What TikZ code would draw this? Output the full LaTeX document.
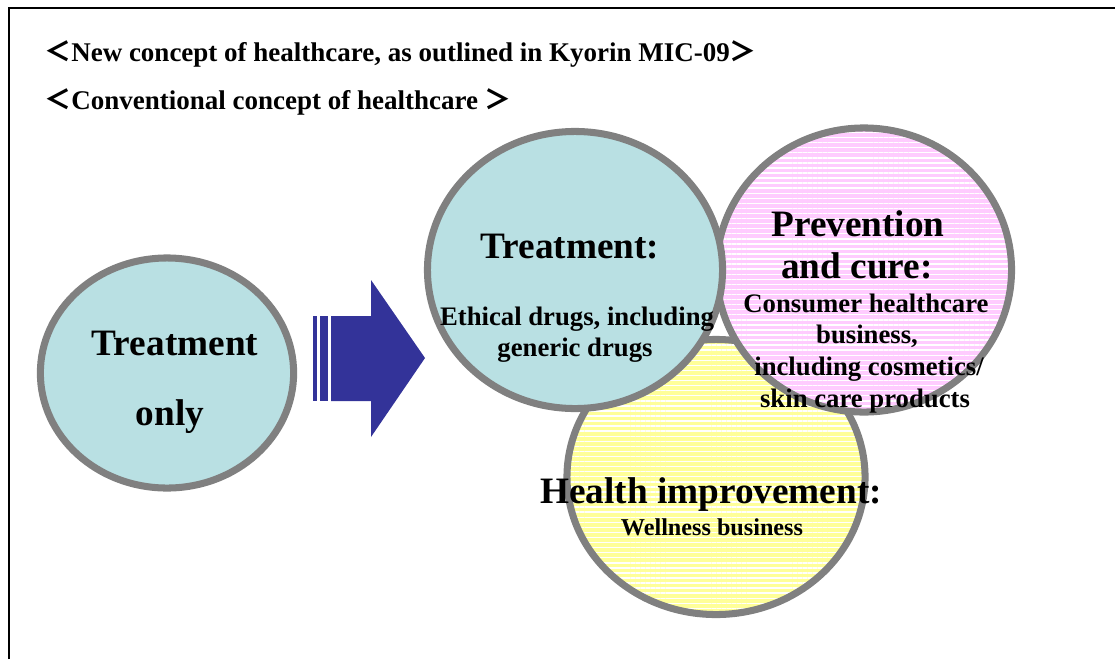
\documentclass[tikz,border=0pt]{standalone}
\usepackage{fontspec}
\setmainfont{Liberation Serif}
\newfontfamily\cjk{Noto Sans CJK JP}
\usetikzlibrary{shapes.geometric}
\usetikzlibrary{patterns.meta}
\definecolor{ring}{RGB}{128,128,128}
\definecolor{cure}{RGB}{185,224,227}
\definecolor{prevent}{RGB}{255,204,255}
\definecolor{wellness}{RGB}{255,255,153}
\definecolor{arrowblue}{RGB}{51,51,153}
\tikzset{
  bubble/.style={ellipse, draw=ring, line width=5pt, inner sep=0pt},
  stripes/.style={preaction={fill=#1}, pattern={Lines[angle=0, distance=3.6pt, line width=1pt]}, pattern color=white},
  big/.style={font=\bfseries\fontsize{26.5}{30}\selectfont, inner sep=0pt, anchor=base},
  small/.style={font=\bfseries\fontsize{19}{22}\selectfont, inner sep=0pt, anchor=base},
  heading/.style={font=\bfseries\fontsize{19.2}{22}\selectfont, inner sep=0pt, anchor=base west},
}

\begin{document}
\begin{tikzpicture}[x=0.025cm, y=-0.025cm]
  \useasboundingbox (0,0) rectangle (1115,659);
  \draw[line width=1.4pt] (9,659) -- (9,8) -- (1115,8);

  \node[heading] (newidea) at (44,61) {{\cjk ＜}New concept of healthcare, as outlined in Kyorin MIC-09{\cjk ＞}};
  \node[heading] (oldidea) at (44,109) {{\cjk ＜}Conventional concept of healthcare {\cjk ＞}};

  \node[bubble, fill=cure, minimum width=6.33cm, minimum height=5.75cm] (only) at (167,373) {};
  \node[big] (onlytop) at (175,355) {Treatment};
  \node[big] (onlybot) at (170,425) {only};

  \fill[arrowblue] (313,316) rectangle (317,401);
  \fill[arrowblue] (320,316) rectangle (328,401);
  \fill[arrowblue] (331,316) -- (371,316) -- (371,280) -- (425,358) -- (371,437) -- (371,401) -- (331,401) -- cycle;

  \node[bubble, stripes=wellness, minimum width=7.45cm, minimum height=6.875cm] (health) at (716,477) {};
  \node[bubble, stripes=prevent, minimum width=7.375cm, minimum height=7.1cm] (prev) at (864,270) {};
  \node[bubble, fill=cure, minimum width=7.375cm, minimum height=6.925cm] (treat) at (575,270) {};

  \node[big] (treattitle) at (570,258) {Treatment:};
  \node[small] (treata) at (577,325) {Ethical drugs, including};
  \node[small] (treatb) at (575,356) {generic drugs};

  \node[big] (preva) at (858,236) {Prevention};
  \node[big] (prevb) at (857,278) {and cure:};
  \node[small] (prevc) at (866,312) {Consumer healthcare};
  \node[small] (prevd) at (867,343) {business,};
  \node[small] (preve) at (869,375) {including cosmetics/};
  \node[small] (prevf) at (865,407) {skin care products};

  \node[big] (healthtitle) at (711,503) {Health improvement:};
  \node[small, font=\bfseries\fontsize{17.2}{20}\selectfont] (healthsub) at (712,535) {Wellness business};
\end{tikzpicture}
\end{document}
